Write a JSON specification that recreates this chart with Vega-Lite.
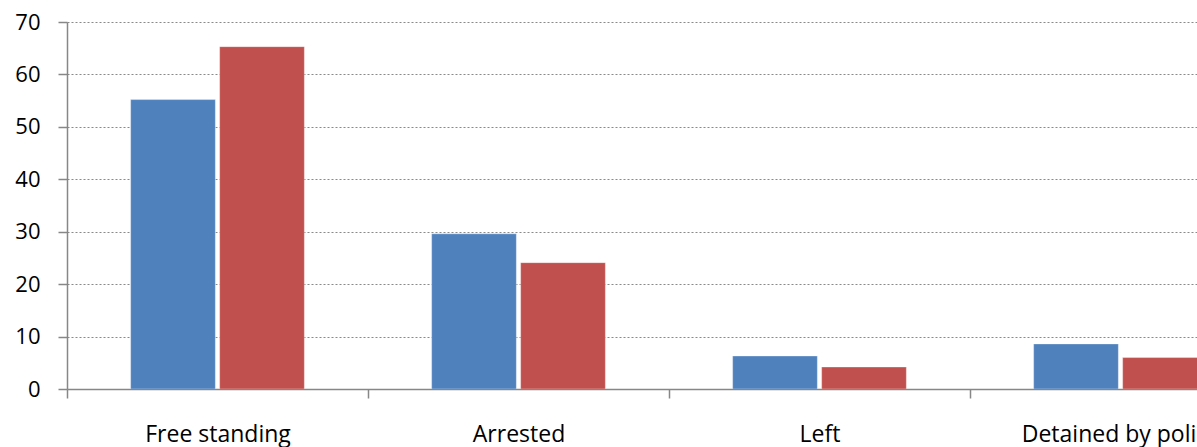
{
  "$schema": "https://vega.github.io/schema/vega-lite/v6.json",
  "autosize": {"type": "none"},
  "padding": {"left": 67, "top": 22, "right": 0, "bottom": 58},
  "width": 1130,
  "height": 367,
  "background": "white",
  "config": {
    "view": {"stroke": null},
    "font": "Open Sans"
  },
  "data": {
    "values": [
      {"category": "Free standing", "series": "Series 1", "value": 55.2},
      {"category": "Free standing", "series": "Series 2", "value": 65.3},
      {"category": "Arrested", "series": "Series 1", "value": 29.6},
      {"category": "Arrested", "series": "Series 2", "value": 24.1},
      {"category": "Left", "series": "Series 1", "value": 6.3},
      {"category": "Left", "series": "Series 2", "value": 4.2},
      {"category": "Detained by police", "series": "Series 1", "value": 8.6},
      {"category": "Detained by police", "series": "Series 2", "value": 6.0}
    ]
  },
  "mark": {"type": "bar", "clip": true, "stroke": "#ffffff", "strokeOpacity": 0.35, "strokeWidth": 1},
  "encoding": {
    "x": {
      "field": "category",
      "type": "nominal",
      "sort": ["Free standing", "Arrested", "Left", "Detained by police"],
      "scale": {"range": [0, 1204], "paddingInner": 0, "paddingOuter": 0},
      "axis": {
        "title": null,
        "labelAngle": 0,
        "labelFont": "Open Sans",
        "labelFontSize": 23,
        "labelColor": "#000000",
        "labelBaseline": "alphabetic",
        "labelPadding": 43,
        "labelLimit": 0,
        "tickBand": "extent",
        "tickSize": 9,
        "tickColor": "#878787",
        "tickWidth": 1.5,
        "domainColor": "#878787",
        "domainWidth": 1.5,
        "grid": false,
        "labelOverlap": false
      }
    },
    "xOffset": {
      "field": "series",
      "type": "nominal",
      "sort": ["Series 1", "Series 2"],
      "scale": {"paddingInner": 0.0483, "paddingOuter": 0.715}
    },
    "y": {
      "field": "value",
      "type": "quantitative",
      "scale": {"domain": [0, 70], "nice": false, "zero": true},
      "axis": {
        "title": null,
        "values": [0, 10, 20, 30, 40, 50, 60, 70],
        "labelFont": "Open Sans",
        "labelFontSize": 22,
        "labelColor": "#000000",
        "labelPadding": 18,
        "tickSize": 9,
        "tickColor": "#878787",
        "tickWidth": 1.5,
        "domainColor": "#878787",
        "domainWidth": 1.5,
        "grid": true,
        "gridColor": "#8a8a8a",
        "gridDash": [2, 2],
        "gridWidth": 1.2
      }
    },
    "color": {
      "field": "series",
      "type": "nominal",
      "scale": {"domain": ["Series 1", "Series 2"], "range": ["#4F81BD", "#C0504D"]},
      "legend": null
    }
  }
}
